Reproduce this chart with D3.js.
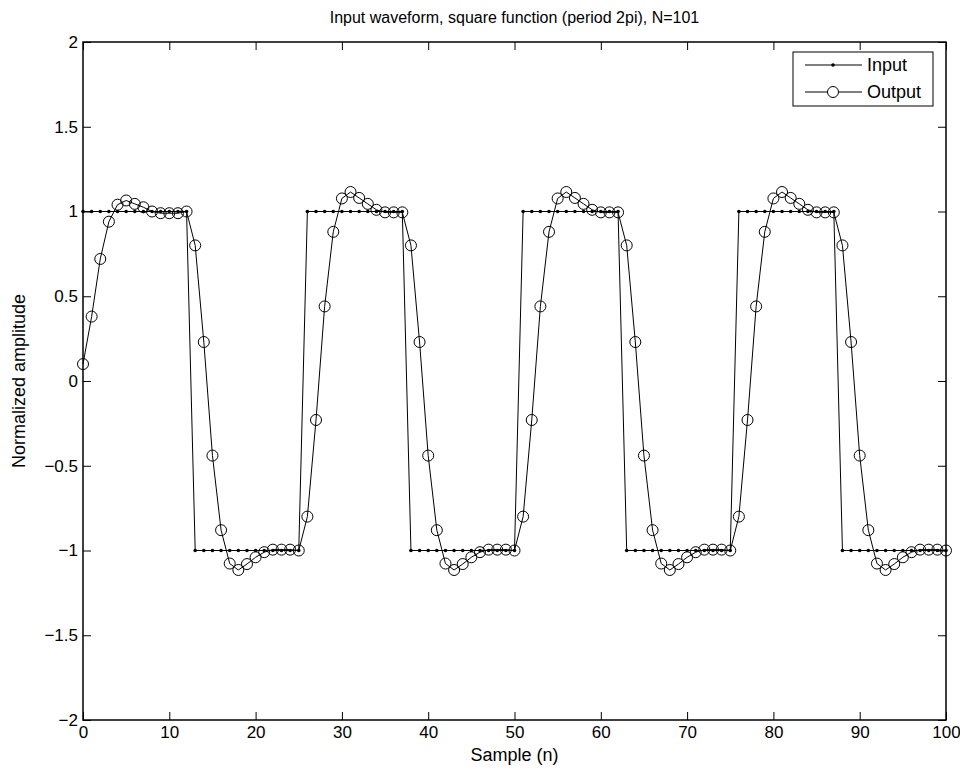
<!DOCTYPE html>
<html>
<head>
<meta charset="utf-8">
<script src="https://cdn.jsdelivr.net/npm/d3@7"></script>
<style>
  body { margin: 0; background: #fff; }
  svg { font-family: "Liberation Sans", Arial, sans-serif; }
</style>
</head>
<body>
<div id="chart"></div>
<script>
// sample index n = 0..100
let samples = d3.range(0, 101);

// input square wave
let inputValues = [
  1, 1, 1, 1, 1, 1, 1, 1, 1, 1, 1, 1, 1,
  -1, -1, -1, -1, -1, -1, -1, -1, -1, -1, -1, -1, -1,
  1, 1, 1, 1, 1, 1, 1, 1, 1, 1, 1, 1,
  -1, -1, -1, -1, -1, -1, -1, -1, -1, -1, -1, -1, -1,
  1, 1, 1, 1, 1, 1, 1, 1, 1, 1, 1, 1,
  -1, -1, -1, -1, -1, -1, -1, -1, -1, -1, -1, -1, -1,
  1, 1, 1, 1, 1, 1, 1, 1, 1, 1, 1, 1,
  -1, -1, -1, -1, -1, -1, -1, -1, -1, -1, -1, -1, -1
];

// filtered output
let outputValues = [
  0.10, 0.38, 0.72, 0.94, 1.04, 1.065, 1.045, 1.025, 1.00, 0.99, 0.99, 0.99, 1.00,
  0.80, 0.23, -0.44, -0.88, -1.077, -1.115, -1.08, -1.04, -1.01, -0.995, -0.995, -0.995, -1.00,
  -0.80, -0.23, 0.44, 0.88, 1.077, 1.115, 1.08, 1.045, 1.01, 0.995, 0.995, 0.995,
  0.80, 0.23, -0.44, -0.88, -1.077, -1.115, -1.08, -1.04, -1.01, -0.995, -0.995, -0.995, -1.00,
  -0.80, -0.23, 0.44, 0.88, 1.077, 1.115, 1.08, 1.045, 1.01, 0.995, 0.995, 0.995,
  0.80, 0.23, -0.44, -0.88, -1.077, -1.115, -1.08, -1.04, -1.01, -0.995, -0.995, -0.995, -1.00,
  -0.80, -0.23, 0.44, 0.88, 1.077, 1.115, 1.08, 1.045, 1.01, 0.995, 0.995, 0.995,
  0.80, 0.23, -0.44, -0.88, -1.077, -1.115, -1.08, -1.04, -1.01, -0.995, -0.995, -0.995, -1.00
];

let xTicks = [0, 10, 20, 30, 40, 50, 60, 70, 80, 90, 100];
let yTicks = [-2, -1.5, -1, -0.5, 0, 0.5, 1, 1.5, 2];
let seriesNames = ["Input", "Output"];

let svgWidth = 960;
let svgHeight = 773;
let marginLeft = 83;
let marginRight = 14;
let marginTop = 42;
let marginBottom = 53;
let width = svgWidth - marginLeft - marginRight;
let height = svgHeight - marginTop - marginBottom;
let tickLen = 8;

let x = d3.scaleLinear().domain([0, 100]).range([0, width]);
let y = d3.scaleLinear().domain([-2, 2]).range([height, 0]);

let fmt = function (d) { return d < 0 ? "\u2212" + Math.abs(d) : String(d); };

let svg = d3.select("#chart").append("svg")
    .attr("width", svgWidth)
    .attr("height", svgHeight)
    .append("g")
    .attr("transform", "translate(" + marginLeft + "," + marginTop + ")");

// axes, MATLAB style: ticks inside on all four sides
let styleAxis = function (g) {
    g.select(".domain").remove();
    g.selectAll(".tick line").attr("stroke", "#000").attr("stroke-width", 1);
    g.selectAll(".tick text").attr("fill", "#000").style("font-size", "17px");
};

svg.append("g")
    .attr("transform", "translate(0," + height + ")")
    .call(d3.axisBottom(x).tickValues(xTicks).tickSizeInner(-tickLen).tickSizeOuter(0).tickPadding(6).tickFormat(fmt))
    .call(styleAxis);

svg.append("g")
    .call(d3.axisTop(x).tickValues(xTicks).tickSizeInner(-tickLen).tickSizeOuter(0).tickFormat(""))
    .call(styleAxis);

svg.append("g")
    .call(d3.axisLeft(y).tickValues(yTicks).tickSizeInner(-tickLen).tickSizeOuter(0).tickPadding(5).tickFormat(fmt))
    .call(styleAxis);

svg.append("g")
    .attr("transform", "translate(" + width + ",0)")
    .call(d3.axisRight(y).tickValues(yTicks).tickSizeInner(-tickLen).tickSizeOuter(0).tickFormat(""))
    .call(styleAxis);

// box
svg.append("rect")
    .attr("width", width)
    .attr("height", height)
    .attr("fill", "none")
    .attr("stroke", "#000")
    .attr("stroke-width", 1.5);

let line = d3.line()
    .x(function (d, i) { return x(samples[i]); })
    .y(function (d) { return y(d); });

// input line and dots
svg.append("path")
    .datum(inputValues)
    .attr("fill", "none")
    .attr("stroke", "#000")
    .attr("stroke-width", 1)
    .attr("d", line);

svg.append("g").selectAll("circle")
    .data(inputValues)
    .join("circle")
    .attr("cx", function (d, i) { return x(samples[i]); })
    .attr("cy", function (d) { return y(d); })
    .attr("r", 1.8)
    .attr("fill", "#000");

// output line and circles
svg.append("path")
    .datum(outputValues)
    .attr("fill", "none")
    .attr("stroke", "#000")
    .attr("stroke-width", 1)
    .attr("d", line);

svg.append("g").selectAll("circle")
    .data(outputValues)
    .join("circle")
    .attr("cx", function (d, i) { return x(samples[i]); })
    .attr("cy", function (d) { return y(d); })
    .attr("r", 5.5)
    .attr("fill", "none")
    .attr("stroke", "#000")
    .attr("stroke-width", 1);

// title
svg.append("text")
    .attr("x", width / 2)
    .attr("y", -19)
    .style("text-anchor", "middle")
    .style("font-size", "16px")
    .text("Input waveform, square function (period 2pi), N=101");

// x label
svg.append("text")
    .attr("x", width / 2)
    .attr("y", height + 41)
    .style("text-anchor", "middle")
    .style("font-size", "18px")
    .text("Sample (n)");

// y label
svg.append("text")
    .attr("transform", "rotate(-90)")
    .attr("x", -height / 2)
    .attr("y", -58)
    .style("text-anchor", "middle")
    .style("font-size", "18px")
    .text("Normalized amplitude");

// legend
let legend = svg.append("g")
    .attr("transform", "translate(" + (width - 153) + ",10)");

legend.append("rect")
    .attr("width", 140)
    .attr("height", 54)
    .attr("fill", "#fff")
    .attr("stroke", "#000")
    .attr("stroke-width", 1);

seriesNames.forEach(function (name, i) {
    let row = legend.append("g").attr("transform", "translate(0," + (13 + i * 27) + ")");
    row.append("line")
        .attr("x1", 12).attr("x2", 69)
        .attr("stroke", "#000").attr("stroke-width", 1);
    if (i === 0) {
        row.append("circle").attr("cx", 40).attr("r", 1.8).attr("fill", "#000");
    } else {
        row.append("circle").attr("cx", 40).attr("r", 5.5)
            .attr("fill", "#fff").attr("stroke", "#000").attr("stroke-width", 1);
    }
    row.append("text")
        .attr("x", 74)
        .attr("dy", "0.35em")
        .style("font-size", "18px")
        .text(name);
});
</script>
</body>
</html>
